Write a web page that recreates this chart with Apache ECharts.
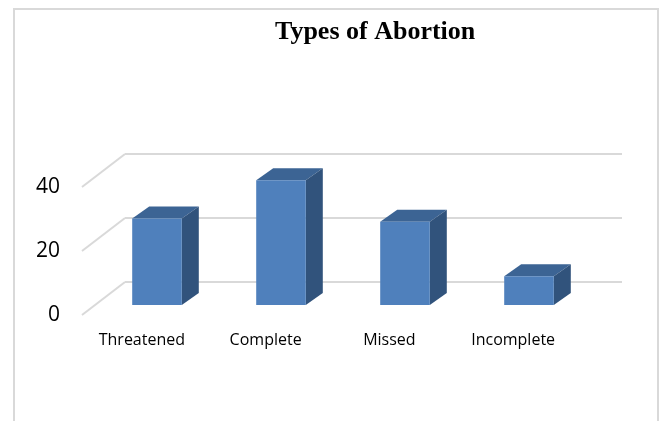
<!DOCTYPE html>
<html>
<head>
<meta charset="utf-8">
<script src="https://cdn.jsdelivr.net/npm/echarts@6/dist/echarts.min.js"></script>
<style>
html,body{margin:0;padding:0;background:#fff;}
#chart{width:663px;height:421px;}
</style>
</head>
<body>
<div id="chart"></div>
<script>
var categories = ['Threatened', 'Complete', 'Missed', 'Incomplete'];
var values = [27, 39, 26, 9];
var yTicks = [0, 20, 40];

var FRONT = '#4f80bc', TOP = '#3c6494', SIDE = '#31537c';
var DX = 17, DY = -12;

function renderBar(params, api) {
  var i = api.value(0), v = api.value(1);
  var t = api.coord([i, v]), b = api.coord([i, 0]);
  var w = api.size([1, 0])[0] * 0.4;
  var l = t[0] - w / 2, r = t[0] + w / 2;
  return {
    type: 'group',
    children: [
      { type: 'polygon', shape: { points: [[l, t[1]], [r, t[1]], [r + DX, t[1] + DY], [l + DX, t[1] + DY]] }, style: { fill: TOP } },
      { type: 'polygon', shape: { points: [[r, t[1]], [r + DX, t[1] + DY], [r + DX, b[1] + DY], [r, b[1]]] }, style: { fill: SIDE } },
      { type: 'rect', shape: { x: l, y: t[1], width: w, height: b[1] - t[1] }, style: { fill: FRONT } }
    ]
  };
}

function renderDiag(p, api) {
  var v = api.value(0);
  var x0 = p.coordSys.x;
  var y0 = api.coord([0, v])[1];
  return { type: 'line', shape: { x1: x0 + 2, y1: y0, x2: x0 + 45, y2: y0 - 33 }, style: { stroke: '#d9d9d9', lineWidth: 2 } };
}

var chart = echarts.init(document.getElementById('chart'), null, { renderer: 'canvas' });
chart.setOption({
  animation: false,
  backgroundColor: '#ffffff',
  title: {
    text: 'Types of Abortion',
    left: 270, top: 14,
    textStyle: { fontFamily: 'Liberation Serif', fontWeight: 'bold', fontSize: 26, color: '#000' }
  },
  graphic: [{
    type: 'rect', z: -10,
    shape: { x: 14, y: 9, width: 644, height: 440 },
    style: { fill: 'none', stroke: '#d9d9d9', lineWidth: 2 }
  }],
  grid: [
    { left: 80, right: 88, top: 187, bottom: 106 },
    { left: 125, right: 41, top: 154, bottom: 139 },
    { left: 95, right: 72, top: 177, bottom: 116 }
  ],
  xAxis: [
    { type: 'category', gridIndex: 0, data: categories, axisLine: { show: false }, axisTick: { show: false },
      axisLabel: { margin: 17, fontFamily: 'Open Sans', fontSize: 16, color: '#000' } },
    { type: 'category', gridIndex: 1, data: categories, show: false },
    { type: 'category', gridIndex: 2, data: categories, show: false }
  ],
  yAxis: [
    { type: 'value', gridIndex: 0, min: 0, max: 40, interval: 20, splitLine: { show: false },
      axisLine: { show: false }, axisTick: { show: false },
      axisLabel: { margin: 20, padding: [8, 0, 0, 0], fontFamily: 'Open Sans', fontSize: 21, color: '#000' } },
    { type: 'value', gridIndex: 1, min: 0, max: 40, interval: 20,
      splitLine: { show: true, lineStyle: { color: '#d9d9d9', width: 2 } },
      axisLine: { show: false }, axisTick: { show: false }, axisLabel: { show: false } },
    { type: 'value', gridIndex: 2, min: 0, max: 40, interval: 20, show: false, splitLine: { show: false } }
  ],
  series: [
    { type: 'custom', xAxisIndex: 0, yAxisIndex: 0, renderItem: renderDiag,
      data: yTicks.map(function (t) { return [t]; }), encode: { y: 0 }, clip: false, z: 1 },
    { type: 'custom', xAxisIndex: 2, yAxisIndex: 2, renderItem: renderBar,
      data: values.map(function (v, i) { return [i, v]; }), clip: false, z: 5 }
  ]
});
</script>
</body>
</html>
